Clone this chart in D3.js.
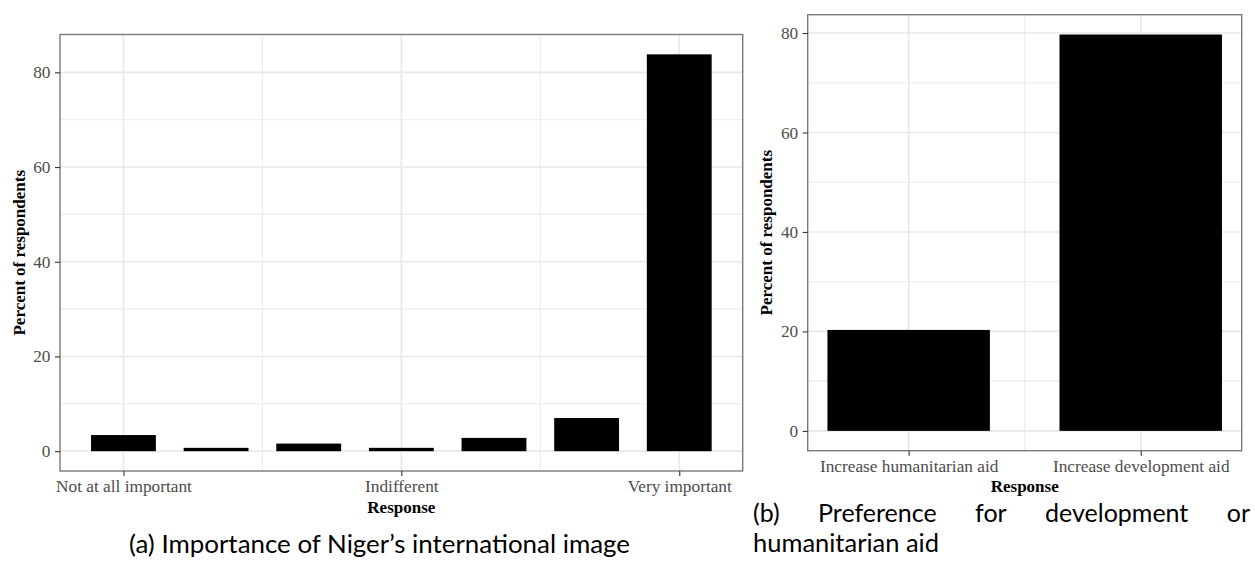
<!DOCTYPE html>
<html><head><meta charset="utf-8">
<script src="https://cdn.jsdelivr.net/npm/d3@7"></script>
<style>body{margin:0;background:#fff}svg{display:block}</style>
</head><body>
<svg id="c" width="1255" height="565"></svg>
<script>
// ---- data ----
const importanceCategories = [1, 2, 3, 4, 5, 6, 7];
const importanceValues = [3.4, 0.7, 1.6, 0.7, 2.8, 7.0, 83.8];
const importanceTickValues = [1, 4, 7];
const importanceTickLabels = ["Not at all important", "Indifferent", "Very important"];
const importanceMinorX = [2.5, 5.5];

const aidCategories = [1, 2];
const aidValues = [20.3, 79.7];
const aidTickValues = [1, 2];
const aidTickLabels = ["Increase humanitarian aid", "Increase development aid"];
const aidMinorX = [1.5];

const yTickValues = [0, 20, 40, 60, 80];
const yMinorValues = [10, 30, 50, 70];

const yTitle = "Percent of respondents";
const xTitle = "Response";
const captionA = "(a) Importance of Niger\u2019s international image";
const captionBLine1 = ["(b)", "Preference", "for", "development", "or"];
const captionBLine2 = "humanitarian aid";

// ---- drawing ----
const svg = d3.select("#c");
const serif = "'Liberation Serif','Times New Roman',serif";
const sans = "Lato, 'DejaVu Sans', sans-serif";

function panel(cfg) {
  const {x0, x1, y0, y1, cats, vals, ticks, labels, minorX} = cfg;
  const lo = d3.min(cats) - 0.35, hi = d3.max(cats) + 0.35, r = hi - lo;
  const xs = d3.scaleLinear().domain([lo - 0.05 * r, hi + 0.05 * r]).range([x0, x1]);
  const M = d3.max(vals);
  const ys = d3.scaleLinear().domain([-0.05 * M, 1.05 * M]).range([y1, y0]);
  const g = svg.append("g");
  // minor grid
  g.selectAll(".myg").data(yMinorValues.filter(v => v > ys.domain()[0] && v < ys.domain()[1]))
    .join("line").attr("x1", x0).attr("x2", x1).attr("y1", d => ys(d)).attr("y2", d => ys(d))
    .attr("stroke", "#ebebeb").attr("stroke-width", 1.1);
  g.selectAll(".mxg").data(minorX)
    .join("line").attr("y1", y0).attr("y2", y1).attr("x1", d => xs(d)).attr("x2", d => xs(d))
    .attr("stroke", "#ebebeb").attr("stroke-width", 1.1);
  // major grid
  g.selectAll(".Myg").data(yTickValues)
    .join("line").attr("x1", x0).attr("x2", x1).attr("y1", d => ys(d)).attr("y2", d => ys(d))
    .attr("stroke", "#e8e8e8").attr("stroke-width", 1.6);
  g.selectAll(".Mxg").data(ticks)
    .join("line").attr("y1", y0).attr("y2", y1).attr("x1", d => xs(d)).attr("x2", d => xs(d))
    .attr("stroke", "#e8e8e8").attr("stroke-width", 1.6);
  // bars
  g.selectAll(".bar").data(cats.map((c, i) => ({c, v: vals[i]})))
    .join("rect")
    .attr("x", d => xs(d.c - 0.35)).attr("width", d => xs(d.c + 0.35) - xs(d.c - 0.35))
    .attr("y", d => ys(d.v)).attr("height", d => ys(0) - ys(d.v))
    .attr("fill", "#000");
  // border
  g.append("rect").attr("x", x0).attr("y", y0).attr("width", x1 - x0).attr("height", y1 - y0)
    .attr("fill", "none").attr("stroke", "#7a7a7a").attr("stroke-width", 1.4);
  // axes
  const ax = g.append("g").attr("transform", `translate(0,${y1})`)
    .call(d3.axisBottom(xs).tickValues(ticks).tickFormat((d, i) => labels[i]).tickSize(5).tickPadding(4));
  const ay = g.append("g").attr("transform", `translate(${x0},0)`)
    .call(d3.axisLeft(ys).tickValues(yTickValues).tickSize(5).tickPadding(4.5));
  [ax, ay].forEach(a => {
    a.select(".domain").remove();
    a.selectAll(".tick line").attr("stroke", "#333").attr("stroke-width", 1.1);
    a.selectAll(".tick text").attr("fill", "#4d4d4d").style("font-family", serif).style("font-size", "17.3px");
  });
  // titles
  g.append("text").attr("x", (x0 + x1) / 2).attr("y", y1 + 41.5).attr("text-anchor", "middle")
    .style("font-family", serif).style("font-weight", "bold").style("font-size", "17px").text(xTitle);
  g.append("text").attr("transform", `translate(${x0 - 35.5},${(y0 + y1) / 2}) rotate(-90)`)
    .attr("text-anchor", "middle")
    .style("font-family", serif).style("font-weight", "bold").style("font-size", "17px").text(yTitle);
}

panel({x0: 60, x1: 742.7, y0: 34.5, y1: 471, cats: importanceCategories, vals: importanceValues,
  ticks: importanceTickValues, labels: importanceTickLabels, minorX: importanceMinorX});
panel({x0: 807.7, x1: 1241.7, y0: 14.7, y1: 450.7, cats: aidCategories, vals: aidValues,
  ticks: aidTickValues, labels: aidTickLabels, minorX: aidMinorX});

// captions
const capSize = 25;
svg.append("text").attr("x", 379.5).attr("y", 552.5).attr("text-anchor", "middle")
  .attr("textLength", 501).attr("lengthAdjust", "spacingAndGlyphs")
  .style("font-family", sans).style("font-size", capSize + "px").text(captionA);
svg.append("text").attr("x", 753).attr("y", 551.7)
  .attr("textLength", 186).attr("lengthAdjust", "spacingAndGlyphs")
  .style("font-family", sans).style("font-size", capSize + "px").text(captionBLine2);
const words = captionBLine1.map(w => svg.append("text").attr("y", 521.7)
  .style("font-family", sans).style("font-size", capSize + "px").text(w));
const widths = words.map(t => t.node().getComputedTextLength());
const L = 753, R = 1250;
const gap = (R - L - d3.sum(widths)) / (words.length - 1);
let cx = L;
words.forEach((t, i) => { t.attr("x", cx); cx += widths[i] + gap; });
</script>
</body></html>
